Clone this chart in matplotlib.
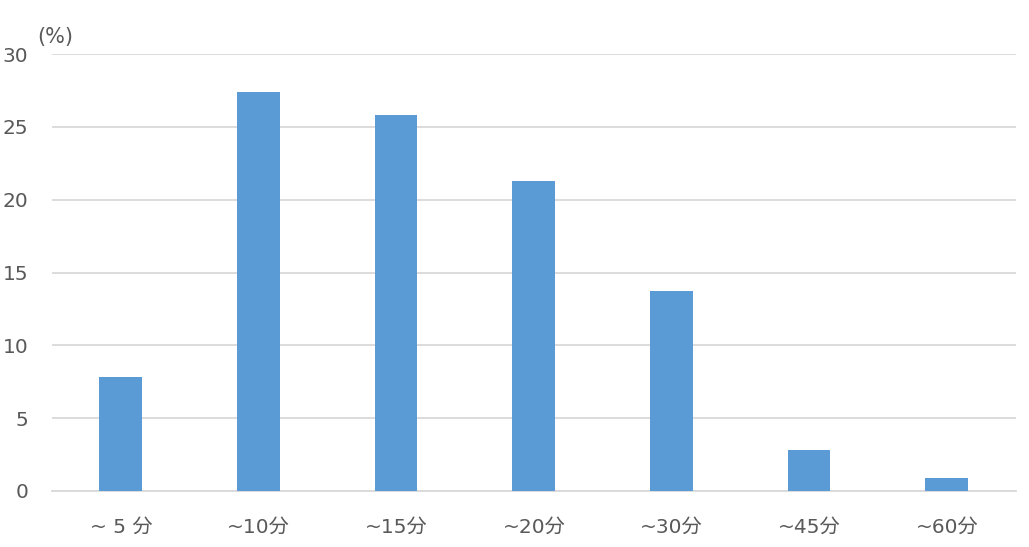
import matplotlib
matplotlib.use("Agg")
import matplotlib.pyplot as plt

plt.rcParams['font.family'] = ['DejaVu Sans', 'Noto Sans CJK JP']

categories = ['~ 5 分', '~10分', '~15分', '~20分', '~30分', '~45分', '~60分']
values = [7.8, 27.4, 25.8, 21.3, 13.7, 2.8, 0.9]
yticks = [0, 5, 10, 15, 20, 25, 30]

def main():
    fig = plt.figure(figsize=(10.29, 5.47), dpi=100)
    ax = fig.add_axes([0.0505, 0.1024, 0.9365, 0.7986])
    x = range(len(categories))
    ax.bar(x, values, width=0.31, color='#5B9BD5', zorder=3)
    ax.set_xlim(-0.5, len(categories) - 0.5)
    ax.set_ylim(0, 30)
    ax.set_yticks(yticks)
    ax.set_xticks(list(x))
    ax.set_xticklabels(categories)
    ax.grid(axis='y', color='#D9D9D9', linewidth=1.3, zorder=0)
    for s in ['top', 'right', 'left']:
        ax.spines[s].set_visible(False)
    ax.spines['bottom'].set_color('#D9D9D9')
    ax.spines['bottom'].set_linewidth(1.3)
    ax.tick_params(axis='both', length=0, labelsize=14.5, colors='#595959')
    ax.tick_params(axis='x', pad=19)
    ax.tick_params(axis='y', pad=17)
    fig.text(0.036, 0.922, '(%)', fontsize=15, color='#595959')
    fig.savefig('out.png', dpi=100)

main()
